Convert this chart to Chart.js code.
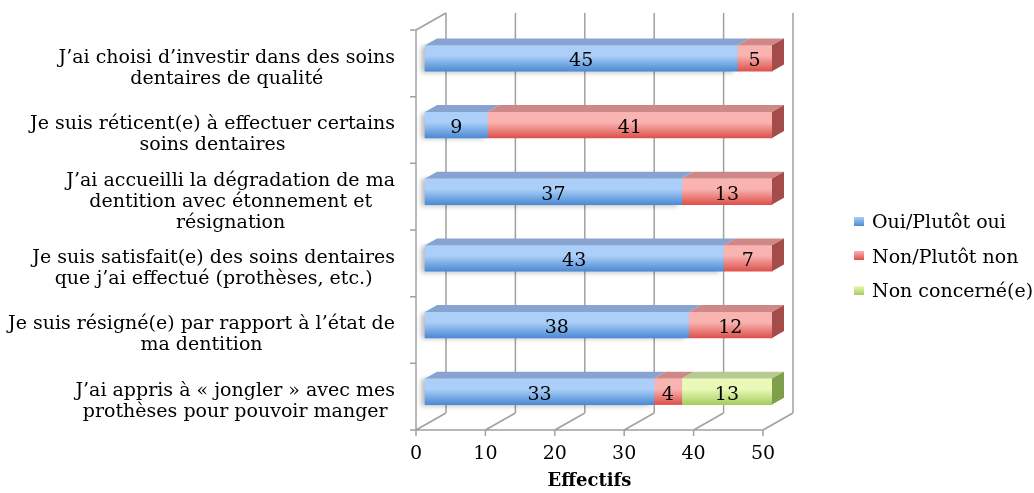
<!DOCTYPE html>
<html lang="fr">
<head>
<meta charset="utf-8">
<title>Effectifs</title>
<script src="https://cdn.jsdelivr.net/npm/chart.js@4.4.1/dist/chart.umd.min.js"></script>
<style>
  html, body { margin:0; padding:0; background:#fff; }
  #wrap { position:relative; width:1034px; height:493px; }
  #chart { display:block; }
  #legend { position:absolute; left:854px; top:204px; margin:0; padding:0; list-style:none;
            font:19px "DejaVu Serif", serif; color:#000; }
  #legend li { height:34.5px; display:flex; align-items:center; gap:8px; white-space:nowrap; }
  #legend .swatch { width:10px; height:9px; display:inline-block; }
</style>
</head>
<body>
<div id="wrap">
  <canvas id="chart" width="1034" height="493"></canvas>
  <ul id="legend"></ul>
</div>
<script>
// ===== Data =====
const CATEGORIES = [
  ['J’ai choisi d’investir dans des soins', 'dentaires de qualité'],
  ['Je suis réticent(e) à effectuer certains', 'soins dentaires'],
  ['J’ai accueilli la dégradation de ma', 'dentition avec étonnement et', 'résignation'],
  ['Je suis satisfait(e) des soins dentaires', 'que j’ai effectué (prothèses, etc.)'],
  ['Je suis résigné(e) par rapport à l’état de', 'ma dentition'],
  ['J’ai appris à « jongler » avec mes', 'prothèses pour pouvoir manger'],
];
const SERIES = ['Oui/Plutôt oui', 'Non/Plutôt non', 'Non concerné(e)'];
const OUI        = [45, 9, 37, 43, 38, 33];
const NON        = [5, 41, 13, 7, 12, 4];
const CONCERNE   = [0, 0, 0, 0, 0, 13];
const X_TICKS    = [0, 10, 20, 30, 40, 50];
const AXIS_TITLE = 'Effectifs';

// ===== Styles =====
const FRONT_TOP = ['#abcff8', '#f9b3b1', '#ebf9b8'];
const FRONT_BOT = ['#4b8ad4', '#dd514b', '#a6cd60'];
const TOP_FACE  = ['#88a3cf', '#cf8888', '#b6ca92'];
const SIDE_FACE = ['#5a7fb2', '#a44c4a', '#809f4b'];
const FONT = '"DejaVu Serif", serif';
const FS = 19;
const BAR_H = 26;
const DX = 30, DY = -17;            // depth of the 3D box
const BAR_OFF = 0.3, BAR_DEPTH = 0.4;

function frontFill(c) {
  const i = c.datasetIndex;
  if (c.dataIndex === undefined || !c.chart.scales.y) return FRONT_BOT[i];
  const yc = c.chart.scales.y.getPixelForValue(c.dataIndex);
  if (!isFinite(yc)) return FRONT_BOT[i];
  const g = c.chart.ctx.createLinearGradient(0, yc - BAR_H/2, 0, yc + BAR_H/2);
  g.addColorStop(0, FRONT_TOP[i]);
  g.addColorStop(0.4, FRONT_TOP[i]);
  g.addColorStop(1, FRONT_BOT[i]);
  return g;
}

// ===== 3D frame, faces, labels =====
const box3d = {
  id: 'box3d',
  beforeDatasetsDraw(chart) {
    const { ctx, chartArea: a, scales: { x } } = chart;
    const n = CATEGORIES.length;
    ctx.save();
    ctx.strokeStyle = '#a0a0a0';
    ctx.lineWidth = 1.5;
    ctx.beginPath();
    X_TICKS.forEach(v => {
      const px = x.getPixelForValue(v);
      ctx.moveTo(px + DX, a.top + DY); ctx.lineTo(px + DX, a.bottom + DY);
      ctx.moveTo(px, a.bottom); ctx.lineTo(px + DX, a.bottom + DY);
      ctx.moveTo(px, a.bottom); ctx.lineTo(px, a.bottom + 6);
    });
    ctx.moveTo(a.left - 6, a.bottom); ctx.lineTo(a.right, a.bottom);
    ctx.moveTo(a.left, a.top); ctx.lineTo(a.left, a.bottom);
    ctx.moveTo(a.left, a.top); ctx.lineTo(a.left + DX, a.top + DY);
    for (let i = 0; i <= n; i++) {
      const py = a.top + i * (a.bottom - a.top) / n;
      ctx.moveTo(a.left - 6, py); ctx.lineTo(a.left, py);
    }
    ctx.stroke();
    ctx.restore();
    // bars sit inside the box depth
    ctx.save();
    ctx.translate(DX * BAR_OFF, DY * BAR_OFF);
  },
  beforeDatasetDraw(chart, args) {
    chart.ctx.save();
    if (args.index === 0) {
      chart.ctx.shadowColor = 'rgba(0,0,0,0.28)';
      chart.ctx.shadowBlur = 5;
      chart.ctx.shadowOffsetX = -4;
      chart.ctx.shadowOffsetY = 1;
    }
  },
  afterDatasetDraw(chart) {
    chart.ctx.restore();
  },
  afterDatasetsDraw(chart) {
    const ctx = chart.ctx;
    const ddx = DX * BAR_DEPTH, ddy = DY * BAR_DEPTH;
    const metas = chart.data.datasets.map((_, i) => chart.getDatasetMeta(i));
    CATEGORIES.forEach((_, j) => {
      let last = null, lastIdx = -1;
      metas.forEach((m, i) => {
        const el = m.data[j];
        if (!chart.data.datasets[i].data[j]) return;
        const x1 = Math.min(el.base, el.x), x2 = Math.max(el.base, el.x);
        const yt = el.y - el.height / 2;
        ctx.fillStyle = TOP_FACE[i];
        ctx.beginPath();
        ctx.moveTo(x1, yt); ctx.lineTo(x2, yt);
        ctx.lineTo(x2 + ddx, yt + ddy); ctx.lineTo(x1 + ddx, yt + ddy);
        ctx.closePath(); ctx.fill();
        if (!last || x2 >= Math.max(last.base, last.x)) { last = el; lastIdx = i; }
      });
      if (last) {
        const x2 = Math.max(last.base, last.x);
        const yt = last.y - last.height / 2, yb = last.y + last.height / 2;
        ctx.fillStyle = SIDE_FACE[lastIdx];
        ctx.beginPath();
        ctx.moveTo(x2, yt); ctx.lineTo(x2 + ddx, yt + ddy);
        ctx.lineTo(x2 + ddx, yb + ddy); ctx.lineTo(x2, yb);
        ctx.closePath(); ctx.fill();
      }
    });
    // value labels
    ctx.fillStyle = '#000';
    ctx.font = FS + 'px ' + FONT;
    ctx.textAlign = 'center';
    ctx.textBaseline = 'middle';
    metas.forEach((m, i) => {
      m.data.forEach((el, j) => {
        const v = chart.data.datasets[i].data[j];
        if (!v) return;
        ctx.fillText(String(v), (el.base + el.x) / 2, el.y + 3);
      });
    });
    ctx.restore();
  },
  afterDraw(chart) {
    const { ctx, chartArea: a } = chart;
    const n = CATEGORIES.length, band = (a.bottom - a.top) / n;
    const right = a.left - 21, lh = 21;
    ctx.save();
    ctx.fillStyle = '#000';
    ctx.font = FS + 'px ' + FONT;
    ctx.textAlign = 'center';
    ctx.textBaseline = 'middle';
    CATEGORIES.forEach((lines, j) => {
      const w = Math.max(...lines.map(t => ctx.measureText(t).width));
      const cx = right - w / 2;
      const cy = a.top + (j + 0.5) * band + 5;
      lines.forEach((t, k) => ctx.fillText(t, cx, cy + (k - (lines.length - 1) / 2) * lh));
    });
    ctx.restore();
  }
};

const ctx = document.getElementById('chart').getContext('2d');
new Chart(ctx, {
  type: 'bar',
  data: {
    labels: CATEGORIES,
    datasets: [OUI, NON, CONCERNE].map((d, i) => ({
      label: SERIES[i], data: d,
      backgroundColor: frontFill, borderWidth: 0,
      barThickness: BAR_H, clip: false,
    }))
  },
  options: {
    indexAxis: 'y',
    responsive: false,
    animation: false,
    events: [],
    layout: { padding: { top: 30, left: 416, right: 271, bottom: 1 } },
    plugins: { legend: { display: false }, tooltip: { enabled: false } },
    scales: {
      x: {
        stacked: true, min: 0, max: 50,
        grid: { display: false, drawTicks: false }, border: { display: false },
        afterBuildTicks: s => { s.ticks = X_TICKS.map(v => ({ value: v })); },
        afterFit: s => { s.height = 62; },
        ticks: { color: '#000', padding: 13, font: { family: FONT, size: FS } },
        title: { display: true, text: AXIS_TITLE, color: '#000', padding: { top: 0, bottom: 0 },
                 font: { family: FONT, size: 18, weight: 'bold' } }
      },
      y: { stacked: true, display: false }
    }
  },
  plugins: [box3d]
});

// ===== Legend =====
document.getElementById('legend').innerHTML = SERIES.map((s, i) => `
  <li><span class="swatch" style="background:linear-gradient(${FRONT_TOP[i]}, ${FRONT_BOT[i]})"></span><span>${s}</span></li>
`).join('');
</script>
</body>
</html>
